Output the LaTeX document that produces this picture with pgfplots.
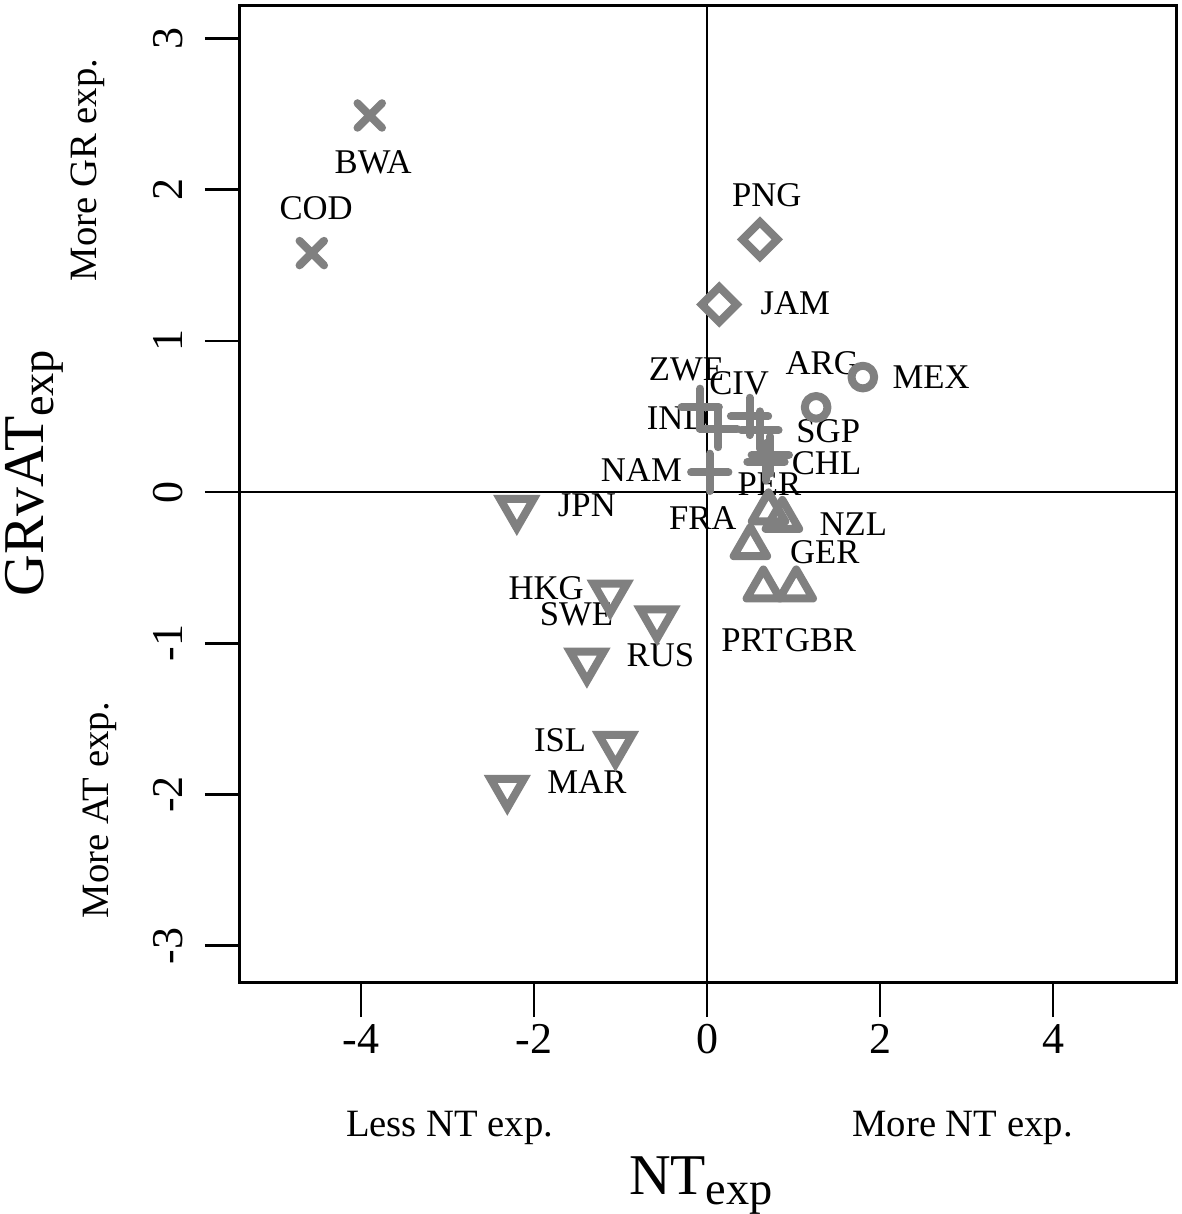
\documentclass[border=0pt]{standalone}
\usepackage{fontspec}
\setmainfont{Liberation Serif}
\usepackage{pgfplots}
\pgfplotsset{compat=1.18}
\definecolor{mgray}{RGB}{128,128,128}
\newcommand{\axsub}[1]{\raisebox{-3pt}{\fontsize{13.9}{15}\selectfont #1}}
\begin{document}
\begin{tikzpicture}
\begin{axis}[
  at={(72pt,69.6pt)}, anchor=south west,
  scale only axis, width=280.8pt, height=292.8pt,
  xmin=-5.40, xmax=5.42, ymin=-3.24, ymax=3.214,
  axis line style={line width=0.9pt},
  xtick={-4,-2,0,2,4}, xticklabels={-4,-2,0,2,4},
  ytick={-3,-2,-1,0,1,2,3}, yticklabels={-3,-2,-1,0,1,2,3},
  tick align=outside, tick pos=left,
  major tick length=10.5pt,
  tick style={line width=0.75pt, black},
  ticklabel style={font=\fontsize{13.2}{15}\selectfont},
  xticklabel style={anchor=center, yshift=-6.5pt},
  yticklabel style={rotate=90, anchor=center, yshift=11pt},
  xlabel={NT\axsub{exp}},
  ylabel={GRvAT\axsub{exp}},
  label style={font=\fontsize{17.3}{19}\selectfont, inner sep=0pt},
  xlabel style={at={(axis description cs:0.4925,0)}, anchor=center, yshift=-61.2pt},
  ylabel style={at={(axis description cs:-0.2201,0.5215)}, anchor=center, rotate=0},
  every axis plot/.append style={only marks, mgray, line width=2.4pt,
    mark options={draw=mgray, line width=2.4pt, line cap=round, line join=round, fill=none}},
  clip=false,
]
% cross: BWA, COD
\addplot[mark=x, mark size=5.2pt] coordinates {(-3.90,2.49) (-4.57,1.58)};
% diamonds: PNG, JAM
\addplot[mark=square, mark size=3.7pt, mark options={rotate=45}] coordinates {(0.61,1.67) (0.14,1.24)};
% circles: MEX, ARG
\addplot[mark=o, mark size=3.4pt] coordinates {(1.80,0.76) (1.26,0.56)};
% plus: ZWE, IND, CIV, SGP, CHL, PER, NAM
\addplot[mark=+, mark size=5.6pt] coordinates {(-0.08,0.56) (0.13,0.42) (0.49,0.50) (0.61,0.41) (0.73,0.245) (0.68,0.20) (0.03,0.13)};
% up triangles: FRA, NZL, GER, PRT, GBR
\addplot[mark=triangle, mark size=5.8pt] coordinates {(0.71,-0.13) (0.87,-0.18) (0.50,-0.36) (0.65,-0.64) (1.03,-0.64)};
% down triangles: JPN, HKG, SWE, RUS, ISL, MAR
\addplot[mark=triangle, mark size=5.8pt, mark options={rotate=180}] coordinates {(-2.20,-0.11) (-1.12,-0.67) (-0.58,-0.84) (-1.39,-1.12) (-1.06,-1.67) (-2.31,-1.96)};

\draw[line width=0.75pt] (axis cs:0,-3.24) -- (axis cs:0,3.214);
\draw[line width=0.75pt] (axis cs:-5.40,0) -- (axis cs:5.42,0);

\begin{scope}[every node/.style={font=\fontsize{10.4}{12}\selectfont, inner sep=0pt, anchor=center}]
\node at (axis cs:-3.86,2.18) {BWA};
\node at (axis cs:-4.52,1.88) {COD};
\node at (axis cs:0.69,1.96) {PNG};
\node at (axis cs:1.02,1.25) {JAM};
\node at (axis cs:1.33,0.85) {ARG};
\node at (axis cs:2.59,0.76) {MEX};
\node at (axis cs:-0.24,0.81) {ZWE};
\node at (axis cs:0.37,0.72) {CIV};
\node at (axis cs:-0.34,0.49) {IND};
\node at (axis cs:1.40,0.40) {SGP};
\node at (axis cs:-0.76,0.145) {NAM};
\node at (axis cs:1.38,0.19) {CHL};
\node at (axis cs:0.72,0.05) {PER};
\node at (axis cs:-1.39,-0.09) {JPN};
\node at (axis cs:-0.05,-0.17) {FRA};
\node at (axis cs:1.69,-0.21) {NZL};
\node at (axis cs:1.36,-0.40) {GER};
\node at (axis cs:-1.86,-0.635) {HKG};
\node at (axis cs:-1.51,-0.81) {SWE};
\node at (axis cs:-0.54,-1.08) {RUS};
\node at (axis cs:0.52,-0.98) {PRT};
\node at (axis cs:1.31,-0.98) {GBR};
\node at (axis cs:-1.70,-1.64) {ISL};
\node at (axis cs:-1.39,-1.92) {MAR};
\end{scope}

\begin{scope}[every node/.style={font=\fontsize{11.6}{13}\selectfont, inner sep=0pt, anchor=center}]
\node at ([yshift=-43.8pt]axis description cs:0.224,0) {Less NT exp.};
\node at ([yshift=-43.8pt]axis description cs:0.772,0) {More NT exp.};
\node[rotate=90] at ([xshift=-45.6pt]axis description cs:0,0.832) {More GR exp.};
\node[rotate=90] at ([xshift=-42pt]axis description cs:0,0.176) {More AT exp.};
\end{scope}
\end{axis}
\pgfresetboundingbox
\path (0,0) rectangle (354.3pt,364.2pt);
\end{tikzpicture}
\end{document}
